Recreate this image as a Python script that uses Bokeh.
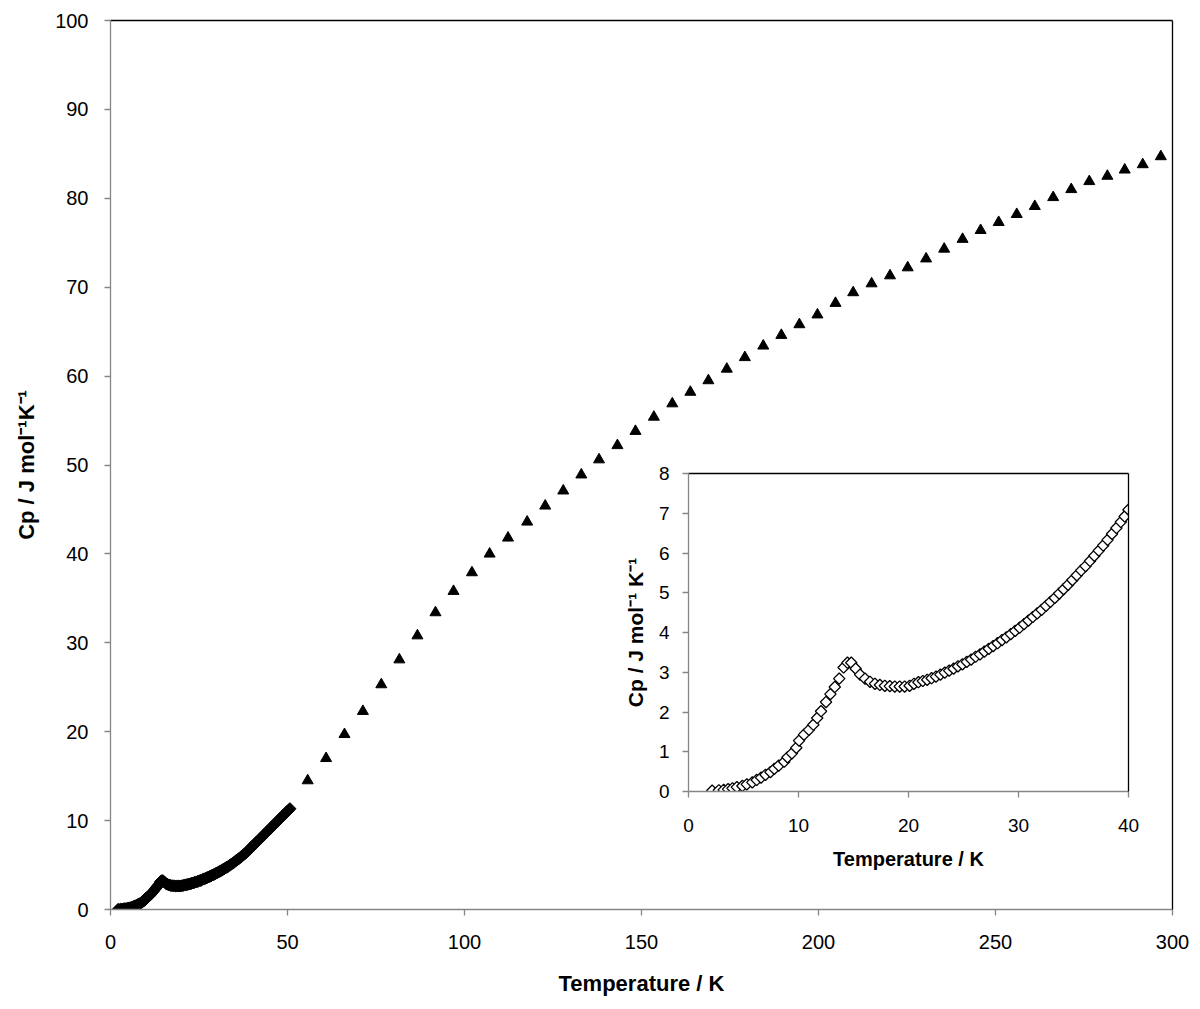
import numpy as np
from bokeh.plotting import figure
from bokeh.models import Range1d, LinearAxis, FixedTicker
from bokeh.layouts import column
from bokeh.embed import file_html
from bokeh.resources import INLINE

# ---------------- data ----------------
# low-temperature series (diamonds), K and J mol-1 K-1
temp_low = [2.15, 2.76, 3.2, 3.6, 4.0, 4.4, 4.9, 5.3, 5.8, 6.2, 6.6, 7.0, 7.45, 7.8, 8.2, 8.7, 9.0, 9.4, 9.8,
            10.05, 10.5, 10.95, 11.35, 11.7, 12.05, 12.5, 12.9, 13.3, 13.7, 14.1, 14.45, 14.8, 15.2, 15.6,
            16.05, 16.5, 16.95, 17.4, 17.85, 18.3, 18.75, 19.2, 19.65,
            20.1, 20.5, 20.9, 21.3, 21.7, 22.1, 22.5, 22.9, 23.3, 23.7, 24.1, 24.5, 24.9, 25.3, 25.7, 26.1,
            26.5, 26.9, 27.3, 27.7, 28.1, 28.5, 28.9, 29.3, 29.7, 30.1, 30.5, 30.9, 31.3, 31.7, 32.1, 32.5,
            32.9, 33.3, 33.7, 34.1, 34.5, 34.9, 35.3, 35.7, 36.1, 36.5, 36.9, 37.3, 37.7, 38.1, 38.5, 38.9,
            39.3, 39.65, 40.0,
            40.4, 40.8, 41.2, 41.6, 42.0, 42.4, 42.8, 43.2, 43.6, 44.0, 44.4, 44.8, 45.2, 45.6, 46.0, 46.4,
            46.8, 47.2, 47.6, 48.0, 48.4, 48.8, 49.2, 49.6, 50.0, 50.4, 50.7]
cp_low = [0.02, 0.03, 0.04, 0.06, 0.08, 0.11, 0.14, 0.18, 0.23, 0.29, 0.35, 0.42, 0.49, 0.57, 0.65, 0.75, 0.86, 0.96, 1.10,
          1.28, 1.43, 1.55, 1.68, 1.85, 2.02, 2.25, 2.45, 2.63, 2.84, 3.12, 3.24, 3.24, 3.09, 2.94,
          2.84, 2.76, 2.71, 2.68, 2.66, 2.65, 2.64, 2.64, 2.64,
          2.66, 2.71, 2.75, 2.78, 2.81, 2.85, 2.89, 2.94, 2.99, 3.04, 3.09, 3.15, 3.20, 3.26, 3.32, 3.39,
          3.45, 3.52, 3.59, 3.66, 3.73, 3.81, 3.88, 3.96, 4.04, 4.12, 4.21, 4.30, 4.39, 4.48, 4.57, 4.67,
          4.77, 4.87, 4.98, 5.09, 5.20, 5.32, 5.44, 5.56, 5.67, 5.80, 5.93, 6.06, 6.19, 6.33, 6.48, 6.63,
          6.78, 6.92, 7.09,
          7.24, 7.39, 7.55, 7.70, 7.86, 8.02, 8.18, 8.34, 8.50, 8.66, 8.82, 8.98, 9.14, 9.30, 9.46, 9.62,
          9.78, 9.94, 10.10, 10.26, 10.42, 10.58, 10.74, 10.90, 11.06, 11.22, 11.34]

# high-temperature series (triangles)
temp_high = [55.7, 60.9, 66.1, 71.3, 76.5, 81.6, 86.7, 91.8, 96.9, 102.1, 107.1, 112.3,
             117.7, 122.8, 127.9, 133.0, 138.0, 143.2, 148.3, 153.5, 158.7, 163.8, 168.9, 174.1,
             179.2, 184.4, 189.5, 194.6, 199.7, 204.8, 209.8, 215.0, 220.2, 225.2, 230.4, 235.5,
             240.7, 245.8, 250.9, 256.0, 261.1, 266.3, 271.4, 276.5, 281.6, 286.5, 291.6, 296.7]
cp_high = [14.5, 17.0, 19.7, 22.3, 25.3, 28.1, 30.8, 33.4, 35.8, 37.9, 40.0, 41.8,
           43.6, 45.4, 47.1, 48.9, 50.6, 52.2, 53.8, 55.4, 56.9, 58.2, 59.5, 60.8,
           62.1, 63.4, 64.6, 65.8, 66.9, 68.2, 69.4, 70.4, 71.3, 72.2, 73.2, 74.3,
           75.4, 76.4, 77.3, 78.2, 79.1, 80.1, 81.0, 81.9, 82.5, 83.2, 83.8, 84.7]

main_x_ticks = [0, 50, 100, 150, 200, 250, 300]
main_y_ticks = [0, 10, 20, 30, 40, 50, 60, 70, 80, 90, 100]
inset_x_ticks = [0, 10, 20, 30, 40]
inset_y_ticks = [0, 1, 2, 3, 4, 5, 6, 7, 8]

x_title = "Temperature / K"
main_y_title = "Cp / J mol\u207b\u00b9K\u207b\u00b9"
inset_y_title = "Cp / J mol\u207b\u00b9 K\u207b\u00b9"

inset_temp = [t for t in temp_low if t <= 40.0]
inset_cp = [c for t, c in zip(temp_low, cp_low) if t <= 40.0]

FONT = "Liberation Sans"
GREY = "#868686"
W, H = 1196, 1005
BL, BT = 110, 20                 # main frame offset
MFW, MFH = 1062, 889             # main frame size
BR, BB = W - BL - MFW, H - BT - MFH
IX, IY, IFW, IFH = 688, 473, 440, 318   # inset frame position / size


def style(fig, xticks, yticks, tick_px, xtitle_px, ytitle_px, ytitle, ystand, xstand, ylabstand, xlabstand):
    fig.grid.visible = False
    for ax, ticks, tpx in ((fig.xaxis[0], xticks, xtitle_px), (fig.yaxis[0], yticks, ytitle_px)):
        ax.ticker = FixedTicker(ticks=ticks)
        ax.axis_line_color = GREY
        ax.axis_line_width = 1.3
        ax.major_tick_line_color = GREY
        ax.major_tick_line_width = 1.3
        ax.major_tick_out = 6
        ax.major_tick_in = 0
        ax.minor_tick_line_color = None
        ax.major_label_text_font = FONT
        ax.major_label_text_font_size = tick_px
        ax.major_label_text_color = "black"
        ax.axis_label_text_font = FONT
        ax.axis_label_text_font_size = tpx
        ax.axis_label_text_font_style = "bold"
        ax.axis_label_text_color = "black"
    fig.xaxis[0].axis_label = x_title
    fig.yaxis[0].axis_label = ytitle
    fig.yaxis[0].major_label_standoff = ystand
    fig.xaxis[0].major_label_standoff = xstand
    fig.yaxis[0].axis_label_standoff = ylabstand
    fig.xaxis[0].axis_label_standoff = xlabstand
    for side in ("above", "right"):
        a = LinearAxis(ticker=FixedTicker(ticks=[]), axis_line_color="black", axis_line_width=1.3,
                       major_tick_line_color=None, minor_tick_line_color=None,
                       major_tick_out=0, major_label_standoff=0, major_label_text_font_size="0px")
        fig.add_layout(a, side)


# ---------------- main figure ----------------
p = figure(frame_width=MFW, frame_height=MFH, x_range=Range1d(0, 300), y_range=Range1d(0, 100),
           min_border_left=BL, min_border_right=BR, min_border_top=BT, min_border_bottom=BB,
           output_backend="svg", toolbar_location=None)
p.outline_line_color = None
style(p, main_x_ticks, main_y_ticks, "20px", "22px", "22px", main_y_title, 16, 19, 13, 19)
p.scatter(temp_high, cp_high, marker="triangle", size=11, color="black")
p.scatter(temp_low, cp_low, marker="square", angle=np.pi / 4, size=8.5,
          fill_color="black", line_color="black")

# ---------------- inset figure (overlaid with a negative margin) ----------------
# same borders as the main figure so that column alignment leaves both unchanged
inset = figure(frame_width=IFW, frame_height=IFH, x_range=Range1d(0, 40), y_range=Range1d(0, 8),
               min_border_left=BL, min_border_right=BR, min_border_top=BT, min_border_bottom=BB,
               output_backend="svg", toolbar_location=None)
inset.outline_line_color = None
inset.background_fill_alpha = 0
inset.border_fill_alpha = 0
style(inset, inset_x_ticks, inset_y_ticks, "19px", "20px", "21px", inset_y_title, 13, 21, 9, 13)
inset.scatter(inset_temp, inset_cp, marker="square", angle=np.pi / 4, size=8,
              fill_color="white", line_color="black", line_width=1.3)
inset.margin = ((IY - BT) - H, 0, 0, IX - BL)

layout = column(p, inset, spacing=0)
open("out.html", "w").write(file_html(layout, INLINE))
